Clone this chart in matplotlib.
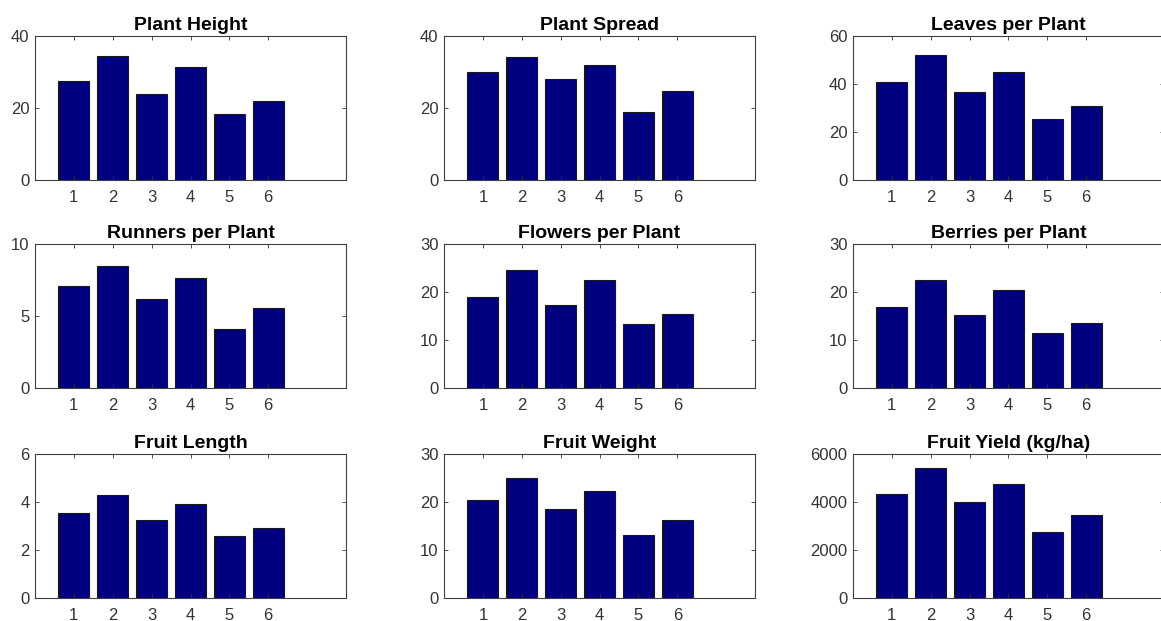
import matplotlib
matplotlib.use("Agg")
import matplotlib.pyplot as plt
import numpy as np

plt.rcParams["font.family"] = ["Liberation Sans", "DejaVu Sans"]

treatments = [1, 2, 3, 4, 5, 6]

titles = ["Plant Height", "Plant Spread", "Leaves per Plant",
          "Runners per Plant", "Flowers per Plant", "Berries per Plant",
          "Fruit Length", "Fruit Weight", "Fruit Yield (kg/ha)"]

plant_height = [27.4, 34.4, 23.9, 31.3, 18.4, 22.0]
plant_spread = [30.0, 34.1, 28.1, 31.9, 19.0, 24.7]
leaves_per_plant = [40.7, 52.2, 36.5, 45.1, 25.4, 31.0]
runners_per_plant = [7.06, 8.45, 6.2, 7.66, 4.1, 5.53]
flowers_per_plant = [18.9, 24.5, 17.2, 22.4, 13.4, 15.5]
berries_per_plant = [16.9, 22.5, 15.2, 20.4, 11.4, 13.5]
fruit_length = [3.53, 4.28, 3.27, 3.92, 2.58, 2.91]
fruit_weight = [20.4, 24.9, 18.5, 22.3, 13.2, 16.2]
fruit_yield = [4342, 5424, 4005, 4750, 2754, 3443]

series = [plant_height, plant_spread, leaves_per_plant,
          runners_per_plant, flowers_per_plant, berries_per_plant,
          fruit_length, fruit_weight, fruit_yield]

y_ticks = [[0, 20, 40], [0, 20, 40], [0, 20, 40, 60],
           [0, 5, 10], [0, 10, 20, 30], [0, 10, 20, 30],
           [0, 2, 4, 6], [0, 10, 20, 30], [0, 2000, 4000, 6000]]

W, H = 1161, 621
fig = plt.figure(figsize=(W / 100, H / 100), dpi=100)

col_left = [35, 444, 853]
row_top = [36, 244, 454]
ax_w, ax_h = 311, 144
axis_gray = "#333333"

for i, (title, vals, yt) in enumerate(zip(titles, series, y_ticks)):
    r, c = divmod(i, 3)
    ax = fig.add_axes([col_left[c] / W, (H - row_top[r] - ax_h) / H, ax_w / W, ax_h / H])
    ax.bar(treatments, vals, width=0.8, color="#000080", edgecolor="#1a1a1a", linewidth=0.8)
    ax.set_xlim(0, 8)
    ax.set_ylim(yt[0], yt[-1])
    ax.set_xticks(treatments)
    ax.set_yticks(yt)
    ax.tick_params(direction="in", top=True, right=True, length=3, width=0.6,
                   labelsize=12, colors=axis_gray)
    ax.tick_params(axis="x", pad=7)
    ax.tick_params(axis="y", pad=4)
    for s in ax.spines.values():
        s.set_color("#404040")
        s.set_linewidth(0.8)
    ax.set_title(title, fontsize=14, fontweight="bold", pad=4)

fig.savefig("out.png", dpi=100)
